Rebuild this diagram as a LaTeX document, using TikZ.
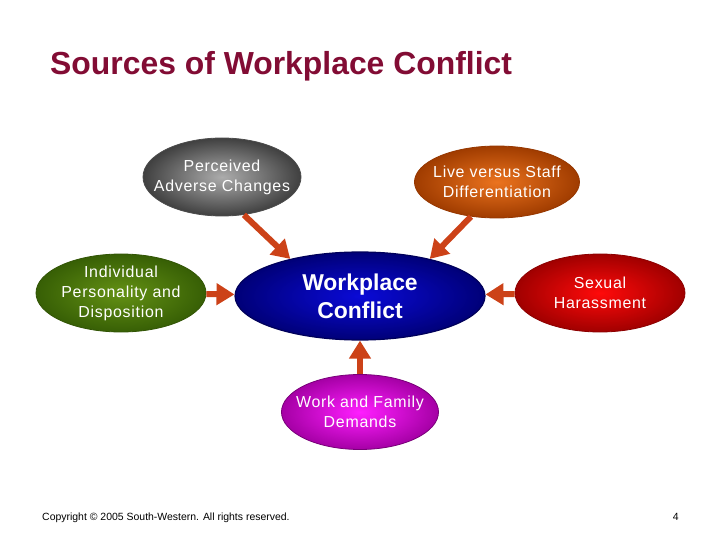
\documentclass[tikz,border=0pt]{standalone}
\usepackage{fontspec}
\setmainfont{Liberation Sans}
\newfontfamily\bubblefont[LetterSpace=4.5]{Liberation Sans}
\usepackage{tikz}
\usetikzlibrary{arrows.meta,shapes.geometric,positioning}
\usepackage{xcolor}

\definecolor{titlered}{RGB}{130,12,52}
\definecolor{arrowred}{RGB}{204,66,24}

\begin{document}
\begin{tikzpicture}[x=1bp,y=-1bp,
                    arr/.style={-{Triangle[length=18bp,width=21bp]},line width=6bp,draw=arrowred}]
  \tikzstyle{bubble}=[ellipse,inner xsep=-30bp,inner ysep=-10bp,align=center,text=white,
                      font=\bubblefont\fontsize{16}{20}\selectfont,line width=0.8bp]
  \tikzstyle{gray bubble}=[bubble,inner color=gray!65,outer color=black!75,draw=black!70,minimum width=158bp,minimum height=78bp]
  \tikzstyle{orange bubble}=[bubble,inner color={rgb,255:red,235;green,115;blue,30},outer color={rgb,255:red,160;green,60;blue,0},draw={rgb,255:red,150;green,55;blue,0},minimum width=165bp,minimum height=72bp]
  \tikzstyle{green bubble}=[bubble,inner color={rgb,255:red,100;green,145;blue,20},outer color={rgb,255:red,55;green,95;blue,5},draw={rgb,255:red,50;green,85;blue,5},minimum width=170bp,minimum height=78bp]
  \tikzstyle{blue bubble}=[bubble,inner color={rgb,255:red,10;green,10;blue,215},outer color={rgb,255:red,0;green,0;blue,120},draw={rgb,255:red,0;green,0;blue,90},line width=1.2bp,
                           font=\fontsize{23}{28}\selectfont\bfseries,minimum width=250bp,minimum height=88bp]
  \tikzstyle{red bubble}=[bubble,inner color={rgb,255:red,255;green,10;blue,10},outer color={rgb,255:red,160;green,0;blue,0},draw={rgb,255:red,140;green,0;blue,0},minimum width=170bp,minimum height=78bp]
  \tikzstyle{pink bubble}=[bubble,inner color={rgb,255:red,255;green,30;blue,255},outer color={rgb,255:red,165;green,0;blue,165},draw={rgb,255:red,120;green,0;blue,120},minimum width=157bp,minimum height=75bp]

  \useasboundingbox (0,0) rectangle (720,540);

  \node[anchor=base west,inner sep=0pt,text=titlered,font=\fontsize{32}{36}\selectfont\bfseries] (T) at (50,75) {Sources of Workplace Conflict};

  \node[blue bubble]   (W) at (360,296) {Workplace\\Conflict};
  \node[gray bubble]   (P) at (222,177) {Perceived\\Adverse Changes};
  \node[orange bubble] (L) at (497,182) {Live versus Staff\\Differentiation};
  \node[green bubble]  (I) at (121,293) {Individual\\Personality and\\Disposition};
  \node[red bubble]    (S) at (600,293) {Sexual\\Harassment};
  \node[pink bubble]   (F) at (360,412) {Work and Family\\Demands};

  \path (P.-60)  edge [arr] (W.152)
        (L.-127) edge [arr] (W.28)
        (I) edge [arr] (W)
        (S) edge [arr] (W)
        (F) edge [arr] (W);

  \node[anchor=base west,inner sep=0pt,font=\fontsize{10.5}{12}\selectfont] (C) at (42,520) {Copyright © 2005 South-Western. All rights reserved.};
  \node[anchor=base east,inner sep=0pt,font=\fontsize{10.5}{12}\selectfont] (N) at (679,520) {4};
\end{tikzpicture}
\end{document}
